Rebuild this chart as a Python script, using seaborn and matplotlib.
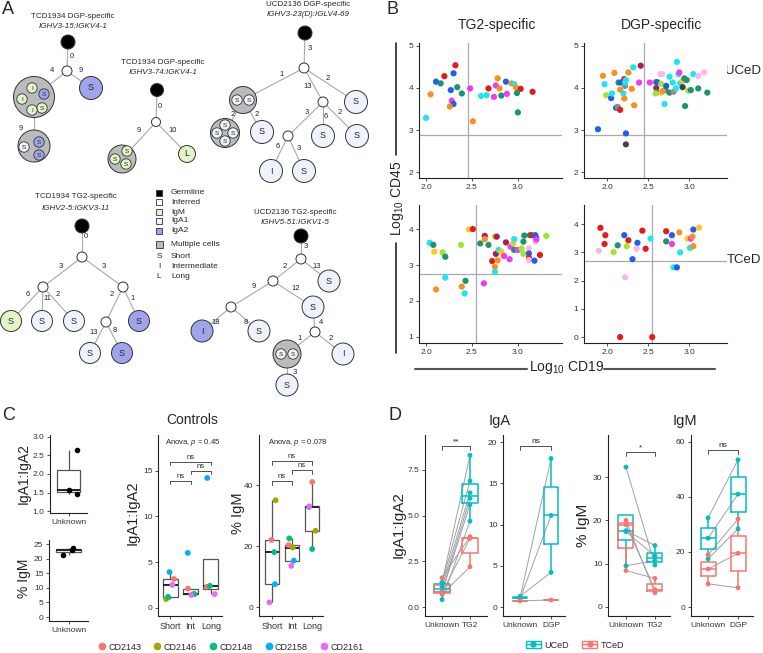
import numpy as np
import pandas as pd
import matplotlib
matplotlib.use('Agg')
import matplotlib.pyplot as plt
import seaborn as sns
from matplotlib.patches import Circle, Rectangle, Patch
from matplotlib.lines import Line2D
from matplotlib.legend_handler import HandlerTuple

np.random.seed(4)
sns.set_theme(style='ticks')
plt.rcParams['font.family'] = ['Liberation Sans', 'DejaVu Sans']
plt.rcParams['mathtext.fontset'] = 'custom'
plt.rcParams['mathtext.rm'] = 'Liberation Sans'
plt.rcParams['mathtext.it'] = 'Liberation Sans:italic'
plt.rcParams['axes.linewidth'] = 0.8
plt.rcParams['axes.edgecolor'] = '#222222'
plt.rcParams['xtick.major.size'] = 2.5
plt.rcParams['ytick.major.size'] = 2.5
plt.rcParams['xtick.major.width'] = 0.6
plt.rcParams['ytick.major.width'] = 0.6
plt.rcParams['xtick.color'] = '#333333'
plt.rcParams['ytick.color'] = '#333333'

# ------------------------------------------------------------------ DATA
# Panel A: clonal trees (diagram)
tree_titles = ['TCD1934 DGP-specific', 'TCD1934 DGP-specific', 'UCD2136 DGP-specific',
               'TCD1934 TG2-specific', 'UCD2136 TG2-specific']
tree_genes = ['IGHV3-15:IGKV4-1', 'IGHV3-74:IGKV4-1', 'IGHV3-23(D):IGLV4-69',
              'IGHV2-5:IGKV3-11', 'IGHV5-51:IGKV1-5']
node_kind = {
    'g1': ('germ', ''), 'i1': ('inf', ''), 'm1': ('multi', ''), 'a1': ('IgA2', 'S'), 'm2': ('multi', ''),
    'g2': ('germ', ''), 'i2': ('inf', ''), 'm3': ('multi', ''), 'l2': ('IgM', 'L'),
    'g3': ('germ', ''), 'i3': ('inf', ''), 'm4': ('multi', ''), 's31': ('IgA1', 'S'), 'i4': ('inf', ''),
    'm5': ('multi', ''), 's32': ('IgA1', 'S'), 'i5': ('inf', ''), 's33': ('IgA1', 'S'), 's34': ('IgA1', 'S'),
    's35': ('IgA1', 'I'), 's36': ('IgA1', 'S'),
    'g4': ('germ', ''), 'i6': ('inf', ''), 'i7': ('inf', ''), 'i8': ('inf', ''), 's41': ('IgM', 'S'),
    's42': ('IgA1', 'S'), 's43': ('IgA1', 'S'), 'i9': ('inf', ''), 's44': ('IgA2', 'S'), 's45': ('IgA1', 'S'),
    's46': ('IgA2', 'S'),
    'g5': ('germ', ''), 'i10': ('inf', ''), 's51': ('IgA1', 'S'), 'i11': ('inf', ''), 's52': ('IgA1', 'S'),
    'i12': ('inf', ''), 's53': ('IgA2', 'I'), 's54': ('IgA1', 'S'), 'i13': ('inf', ''), 'm6': ('multi', ''),
    's55': ('IgA1', 'I'), 's56': ('IgA1', 'S'),
}
tree_edges = [('g1', 'i1', '0'), ('i1', 'm1', '4'), ('i1', 'a1', '9'), ('m1', 'm2', '9'),
              ('g2', 'i2', '0'), ('i2', 'm3', '9'), ('i2', 'l2', '10'),
              ('g3', 'i3', '3'), ('i3', 'm4', '1'), ('i3', 's31', '2'), ('i3', 'i4', '13'), ('m4', 'm5', '2'),
              ('m4', 's32', '2'), ('i4', 'i5', '3'), ('i4', 's33', '6'), ('i4', 's34', '2'), ('i5', 's35', '6'),
              ('i5', 's36', '3'),
              ('g4', 'i6', '0'), ('i6', 'i7', '3'), ('i6', 'i8', '3'), ('i7', 's41', '6'), ('i7', 's42', '11'),
              ('i7', 's43', '2'), ('i8', 'i9', '2'), ('i8', 's44', '1'), ('i9', 's45', '13'), ('i9', 's46', '8'),
              ('g5', 'i10', '3'), ('i10', 'i11', '2'), ('i10', 's51', '13'), ('i11', 'i12', '9'), ('i11', 's52', '12'),
              ('i12', 's53', '18'), ('i12', 's54', '8'), ('s52', 'i13', '4'), ('i13', 'm6', '1'), ('i13', 's55', '2'),
              ('m6', 's56', '3')]
multi_cells = [('m1', 'IgM', 'I'), ('m1', 'IgA2', 'S'), ('m1', 'IgM', 'I'), ('m1', 'IgM', 'S'), ('m1', 'IgM', 'I'),
               ('m2', 'IgA2', 'S'), ('m2', 'IgA1', 'S'), ('m2', 'IgA2', 'S'),
               ('m3', 'IgM', 'S'), ('m3', 'IgM', 'S'), ('m3', 'IgM', 'S'),
               ('m4', 'IgA1', 'S'), ('m4', 'IgA1', 'S'),
               ('m5', 'IgA1', 'S'), ('m5', 'IgA1', 'S'), ('m5', 'IgA1', 'S'), ('m5', 'IgA1', 'S'),
               ('m6', 'IgA1', 'S'), ('m6', 'IgA1', 'S')]
legend_kinds = ['germ', 'inf', 'IgM', 'IgA1', 'IgA2', 'multi', 'S', 'I', 'L']
legend_names = ['Germline', 'Inferred', 'IgM', 'IgA1', 'IgA2', 'Multiple cells', 'Short', 'Intermediate', 'Long']

# Panel B: flow cytometry (log10 CD19 vs log10 CD45)
tg2_u_x = [2.00, 2.05, 2.11, 2.16, 2.20, 2.30, 2.32, 2.27, 2.34, 2.39, 2.28, 2.30, 2.26, 2.48, 2.51, 2.60,
           2.66, 2.68, 2.74, 2.76, 2.78, 2.80, 2.82, 2.87, 2.88, 2.93, 2.96, 2.98, 3.03, 2.99, 3.00, 3.16]
tg2_u_y = [3.29, 3.85, 4.15, 4.11, 4.28, 4.35, 4.54, 3.95, 4.02, 3.87, 3.70, 3.62, 3.56, 3.99, 3.21, 3.81,
           3.83, 3.99, 3.79, 4.06, 4.23, 3.99, 3.82, 4.15, 3.86, 4.11, 4.09, 4.01, 3.98, 3.88, 3.42, 3.91]
tg2_u_c = ['cyan', 'orange', 'blue', 'green', 'red', 'blue', 'red', 'blue', 'green', 'green', 'magenta', 'blue',
           'orange', 'magenta', 'orange', 'cyan', 'cyan', 'red', 'magenta', 'magenta', 'orange', 'orange', 'green',
           'blue', 'magenta', 'orange', 'cyan', 'orange', 'red', 'green', 'green', 'red']
dgp_u_x = [1.89, 1.95, 1.97, 1.99, 2.05, 2.06, 2.09, 2.11, 2.13, 2.16, 2.14, 2.17, 2.16, 2.22, 2.21, 2.23,
           2.22, 2.20, 2.21, 2.26, 2.30, 2.33, 2.32, 2.41, 2.39, 2.52, 2.59, 2.61, 2.60, 2.61, 2.59, 2.66,
           2.66, 2.70, 2.71, 2.68, 2.72, 2.65, 2.67, 2.76, 2.76, 2.81, 2.80, 2.85, 2.87, 2.84, 2.88, 2.89,
           2.92, 2.92, 2.94, 2.97, 2.95, 2.99, 3.02, 3.05, 3.11, 3.11, 3.18, 3.22, 2.23, 2.23]
dgp_u_y = [3.02, 4.29, 4.09, 3.83, 3.76, 3.87, 4.36, 3.53, 3.55, 3.48, 4.13, 4.13, 3.96, 4.05, 4.21, 4.19,
           4.13, 3.87, 3.75, 4.37, 3.98, 3.59, 4.49, 4.53, 4.13, 4.13, 4.14, 4.14, 4.00, 3.90, 3.87, 3.89,
           4.10, 3.62, 3.95, 3.93, 4.05, 4.33, 4.33, 3.89, 4.27, 3.91, 4.13, 4.62, 4.33, 3.99, 4.37, 4.11,
           4.17, 4.02, 4.23, 4.19, 3.57, 3.94, 3.95, 4.33, 4.29, 3.99, 4.37, 3.89, 2.92, 2.66]
dgp_u_c = ['blue', 'orange', 'cyan', 'lime', 'blue', 'cyan', 'orange', 'blue', 'gray', 'red', 'green', 'blue',
           'orange', 'gray', 'red', 'cyan', 'cyan', 'cyan', 'orange', 'orange', 'orange', 'orange', 'cyan', 'maroon',
           'magenta', 'magenta', 'brown', 'blue', 'maroon', 'green', 'lime', 'yellow', 'lime', 'cyan', 'green',
           'orange', 'blue', 'pinkl', 'pinkl', 'green', 'cyan', 'brown', 'cyan', 'cyan', 'cyan', 'cyan', 'magenta',
           'cyan', 'yellow', 'dgray', 'green', 'green', 'green', 'lime', 'green', 'cyan', 'pinkl', 'green', 'pinkl',
           'green', 'blue', 'dgray']
tg2_t_x = [2.04, 2.08, 2.09, 2.18, 2.21, 2.21, 2.11, 2.38, 2.39, 2.43, 2.42, 2.47, 2.51, 2.63, 2.59, 2.64,
           2.64, 2.68, 2.72, 2.75, 2.77, 2.76, 2.78, 2.75, 2.75, 2.79, 2.82, 2.85, 2.87, 2.91, 2.92, 2.95,
           2.96, 2.96, 3.00, 3.04, 3.06, 3.06, 3.07, 3.12, 3.13, 3.15, 3.12, 3.12, 3.12, 3.18, 3.19, 3.20,
           3.19, 3.20, 3.24, 3.31]
tg2_t_y = [3.62, 3.56, 3.37, 3.35, 3.23, 2.65, 2.32, 3.56, 2.40, 2.56, 2.21, 3.99, 4.00, 2.49, 3.60, 3.81,
           3.72, 3.56, 3.11, 3.79, 3.79, 3.31, 3.13, 2.95, 2.81, 3.42, 3.37, 3.25, 3.63, 3.16, 3.51, 3.60,
           3.72, 3.42, 3.42, 3.46, 3.31, 3.65, 3.82, 3.46, 3.83, 3.83, 3.32, 3.20, 3.14, 3.12, 3.83, 3.76,
           3.65, 3.71, 3.28, 3.81]
tg2_t_c = ['cyan', 'green', 'yellow', 'lime', 'green', 'cyan', 'orange', 'lime', 'orange', 'green', 'cyan',
           'yellow', 'red', 'magenta', 'green', 'maroon', 'orange', 'green', 'red', 'yellow', 'maroon', 'maroon',
           'orange', 'orange', 'cyan', 'cyan', 'yellow', 'magenta', 'maroon', 'magenta', 'magenta', 'yellow',
           'cyan', 'green', 'magenta', 'lime', 'lime', 'green', 'green', 'pinkl', 'green', 'red', 'blue', 'red',
           'pinkl', 'blue', 'blue', 'blue', 'pinkl', 'magenta', 'red', 'lime']
dgp_t_x = [1.90, 1.92, 1.98, 1.97, 2.08, 2.13, 2.21, 2.26, 2.24, 2.22, 2.31, 2.37, 2.36, 2.43, 2.47, 2.53,
           2.72, 2.72, 2.79, 2.79, 2.88, 2.89, 2.81, 2.85, 2.98, 3.02, 3.04, 3.01, 3.05, 3.05, 3.12, 2.16, 2.55]
dgp_t_y = [3.06, 3.87, 3.61, 3.30, 3.01, 3.25, 3.61, 3.43, 3.22, 2.12, 2.76, 3.34, 3.13, 3.77, 3.13, 3.49,
           3.75, 3.39, 3.61, 3.30, 3.71, 3.00, 2.47, 2.47, 3.49, 3.49, 3.56, 3.16, 3.22, 3.81, 3.88, 0.0, 0.0]
dgp_t_c = ['pinkl', 'red', 'red', 'red', 'lime', 'green', 'blue', 'red', 'lime', 'pinkl', 'blue', 'blue',
           'pinkl', 'red', 'red', 'cyan', 'red', 'green', 'blue', 'magenta', 'orange', 'cyan', 'cyan', 'blue',
           'yellow', 'magenta', 'orange', 'cyan', 'orange', 'blue', 'yellow', 'red', 'red']
gate_cd19 = [2.46, 2.45, 2.54, 2.55]   # TG2/UCeD, DGP/UCeD, TG2/TCeD, DGP/TCeD
gate_cd45 = [2.88, 2.88, 2.75, 2.71]

# Panel C: controls
unknown_ratio = [2.65, 1.58, 1.45]
unknown_igm = [23.6, 23.0, 21.3]
ctrl_length = ['Short'] * 5 + ['Int'] * 5 + ['Long'] * 5
ctrl_donor = ['CD2143', 'CD2146', 'CD2148', 'CD2158', 'CD2161'] * 3
ctrl_ratio = [3.15, 0.95, 1.2, 3.9, 2.5, 2.1, 1.5, 1.5, 6.0, 1.4, 2.3, np.nan, 2.4, 14.2, 1.5]
ctrl_igm = [22.0, 35.0, 18.0, 7.5, 1.5, 20.3, 19.5, 22.5, 15.2, 13.5, 41.0, 25.0, 19.0, 32.8, 33.0]
donors = ['CD2143', 'CD2146', 'CD2148', 'CD2158', 'CD2161']
donor_colors = ['#F8766D', '#A3A500', '#00BF7D', '#00B0F6', '#E76BF3']
ratio_anova = 'Anova, $\\it{p}$ = 0.45'
igm_anova = 'Anova, $\\it{p}$ = 0.078'

# Panel D: patients, paired unknown vs antigen-specific
da_grp = ['UCeD'] * 6 + ['TCeD'] * 3
da_unknown = [1.35, 1.3, 1.1, 0.85, 0.8, 0.4, 1.6, 0.8, 0.7]
da_tg2 = [8.3, 6.9, 6.25, 5.95, 5.6, 4.7, 3.85, 3.75, 2.2]
db_grp = ['UCeD'] * 3 + ['TCeD']
db_unknown = [1.1, 1.3, 1.0, 0.75]
db_dgp = [18.0, 4.2, 11.1, 0.85]
dc_grp = ['UCeD'] * 4 + ['TCeD'] * 3
dc_unknown = [32.3, 17.6, 17.4, 9.5, 20.0, 19.0, 8.4]
dc_tg2 = [9.7, 14.2, 11.8, 10.7, 3.3, 4.0, 6.6]
dd_grp = ['UCeD'] * 3 + ['TCeD'] * 3
dd_unknown = [32.4, 25.0, 17.5, 19.0, 13.8, 8.4]
dd_dgp = [53.5, 41.0, 28.4, 32.0, 19.5, 7.0]
d_signif = ['**', 'ns', '*', 'ns']
group_colors = {'UCeD': '#00BFC4', 'TCeD': '#F8766D'}

# ------------------------------------------------------------------ FIGURE
W, H = 763, 653
fig = plt.figure(figsize=(W / 100, H / 100), dpi=100)


def px_ax(x0, y0, x1, y1):
    return fig.add_axes([x0 / W, 1 - y1 / H, (x1 - x0) / W, (y1 - y0) / H])


axA = fig.add_axes([0, 0, 1, 1])
axA.set_xlim(0, W)
axA.set_ylim(H, 0)
axA.axis('off')


def T(x, y, s, **kw):
    axA.text(x, y, s, **kw)


# panel letters
for lab, (x, y) in zip('ABCD', [(2, 10), (386, 10), (2, 416), (388, 416)]):
    T(x, y, lab, fontsize=13, va='center', ha='left')

# ---------------- Panel A
fills = {'germ': 'black', 'inf': 'white', 'IgM': '#E1F5C8', 'IgA1': '#EDF2FB', 'IgA2': '#A0A4EA',
         'multi': '#BBBBBB'}
node_pos = {
    'g1': (68, 42, 7), 'i1': (67, 71, 5), 'm1': (34, 97, 20.5), 'a1': (91, 88, 11.5), 'm2': (34, 146, 16),
    'g2': (157, 90, 6.5), 'i2': (156, 122, 4.5), 'm3': (122, 159, 14), 'l2': (187, 154, 8.5),
    'g3': (305, 33, 7), 'i3': (304, 68, 5), 'm4': (243, 100, 13.5), 's31': (356, 102, 11.5), 'i4': (323, 102, 5),
    'm5': (225, 133, 14.5), 's32': (262, 132, 11.5), 'i5': (288, 136, 5), 's33': (323, 136, 11.5),
    's34': (357, 136, 11.5), 's35': (271, 171, 11.5), 's36': (304, 171, 11.5),
    'g4': (82, 226, 7), 'i6': (82, 257, 5), 'i7': (43, 287, 5), 'i8': (123, 287, 5), 's41': (11, 321, 10.5),
    's42': (42, 321, 10.5), 's43': (74, 321, 10.5), 'i9': (106, 322, 5), 's44': (139, 321, 10.5),
    's45': (90, 353, 10.5), 's46': (122, 353, 10.5),
    'g5': (301, 236, 7), 'i10': (301, 259, 5), 's51': (329, 281, 11), 'i11': (273, 281, 5), 's52': (313, 307, 11),
    'i12': (231, 307, 5), 's53': (202, 331, 11), 's54': (259, 331, 11), 'i13': (315, 332, 5), 'm6': (287, 354, 14),
    's55': (343, 354, 11), 's56': (287, 385, 11),
}
edge_label_pos = [(72, 57), (52, 71), (81, 71), (21, 128),
                  (160, 107), (139, 131), (173, 131),
                  (310, 49), (282, 74), (328, 78), (308, 87), (233, 114), (257, 114), (307, 113), (326, 116),
                  (340, 113), (278, 147), (299, 148),
                  (86, 237), (61, 266), (104, 266), (28, 294), (47, 298), (58, 294), (112, 294), (133, 298),
                  (94, 332), (115, 331),
                  (306, 247), (285, 266), (317, 266), (254, 287), (296, 288), (216, 323), (246, 323), (321, 322),
                  (300, 339), (331, 339), (295, 372)]
multi_pos = [(32, 88), (44, 94), (22, 99), (42, 108), (32, 110),
             (39, 142), (24, 147), (39, 155),
             (127, 151), (115, 159), (126, 164),
             (237, 100), (249, 100),
             (225, 125), (217, 133), (233, 133), (225, 141),
             (281, 354), (293, 354)]
title_pos = [(73, 16, 26), (163, 62, 73), (308, 5, 15), (76, 197, 208), (295, 213, 223)]

for (p, c, w), (lx, ly) in zip(tree_edges, edge_label_pos):
    x0, y0, _ = node_pos[p]
    x1, y1, _ = node_pos[c]
    axA.plot([x0, x1], [y0, y1], color='#A8A8A8', lw=0.8, zorder=1)
    T(lx, ly, w, fontsize=5.5, ha='center', va='center', color='#222222')
for name, (kind, letter) in node_kind.items():
    x, y, r = node_pos[name]
    axA.add_patch(Circle((x, y), r, facecolor=fills[kind], edgecolor='#333333', lw=0.7, zorder=2))
    if letter:
        T(x, y, letter, fontsize=6.5, ha='center', va='center', zorder=4)
for (m, kind, letter), (x, y) in zip(multi_cells, multi_pos):
    axA.add_patch(Circle((x, y), 5.2, facecolor=fills[kind], edgecolor='#333333', lw=0.6, zorder=3))
    T(x, y + 0.3, letter, fontsize=4.6, ha='center', va='center', zorder=4)
for (t, g), (x, y1, y2) in zip(zip(tree_titles, tree_genes), title_pos):
    T(x, y1, t, fontsize=5.8, ha='center', va='center')
    T(x, y2, g, fontsize=5.8, ha='center', va='center', style='italic')

leg_y = [193, 202, 212, 221, 231, 244, 256, 267, 277]
for kind, name, y in zip(legend_kinds, legend_names, leg_y):
    if kind in fills:
        s = 7 if kind == 'multi' else 6
        axA.add_patch(Rectangle((159 - s / 2, y - s / 2), s, s, facecolor=fills[kind], edgecolor='#333333',
                                lw=0.6))
    else:
        T(159, y, kind, fontsize=6, ha='center', va='center')
    T(171, y, name, fontsize=6, ha='left', va='center')

# ---------------- Panel B
bcol = {'orange': '#F7901E', 'red': '#E41A1C', 'blue': '#1F5FF0', 'green': '#1B9470', 'magenta': '#F03CF0',
        'cyan': '#1DE6F0', 'yellow': '#FFC51F', 'lime': '#A0E62C', 'maroon': '#A3205A', 'pinkl': '#F7B8F2',
        'gray': '#8C8C8C', 'dgray': '#444444', 'brown': '#A88888'}
b_boxes = [(419, 43, 562, 178), (584, 43, 727, 178), (419, 205, 562, 343), (584, 205, 727, 343)]
b_xlim = [(1.924, 3.48), (1.72, 3.46), (1.924, 3.48), (1.72, 3.46)]
b_ylim = [(1.86, 5.07), (1.86, 5.07), (0.83, 4.67), (-0.21, 4.68)]
b_yticks = [[2, 3, 4, 5], [2, 3, 4, 5], [1, 2, 3, 4], [0, 1, 2, 3, 4]]
b_data = [(tg2_u_x, tg2_u_y, tg2_u_c), (dgp_u_x, dgp_u_y, dgp_u_c),
          (tg2_t_x, tg2_t_y, tg2_t_c), (dgp_t_x, dgp_t_y, dgp_t_c)]
for i in range(4):
    ax = px_ax(*b_boxes[i])
    xs, ys, cs = b_data[i]
    ax.axvline(gate_cd19[i], color='#AAAAAA', lw=0.9, zorder=0)
    ax.axhline(gate_cd45[i], color='#AAAAAA', lw=0.9, zorder=0)
    sns.scatterplot(x=xs, y=ys, hue=cs, palette=bcol, s=20, linewidth=0, legend=False, ax=ax, zorder=3)
    ax.set_xlim(*b_xlim[i])
    ax.set_ylim(*b_ylim[i])
    ax.set_xticks([2.0, 2.5, 3.0])
    ax.set_xticklabels(['2.0', '2.5', '3.0'])
    ax.set_yticks(b_yticks[i])
    ax.tick_params(labelsize=6, pad=1.5)
    sns.despine(ax=ax)
    ax.set_xlabel('')
    ax.set_ylabel('')
T(497, 25, 'TG2-specific', fontsize=10, ha='center', va='center')
T(662, 25, 'DGP-specific', fontsize=10, ha='center', va='center')
T(761, 71, 'UCeD', fontsize=9.5, ha='right', va='center')
T(761, 260, 'TCeD', fontsize=9.5, ha='right', va='center')
T(397, 198, 'Log$_{10}$ CD45', fontsize=10, ha='center', va='center', rotation=90)
T(567, 368, 'Log$_{10}$ CD19', fontsize=10, ha='center', va='center')
axA.plot([396, 396], [43, 155], color='#222222', lw=1.2)
axA.plot([396, 396], [243, 353], color='#222222', lw=1.2)
axA.plot([415, 527], [369, 369], color='#555555', lw=1.5)
axA.plot([604, 715], [369, 369], color='#555555', lw=1.5)

# ---------------- Panel C
dpal = dict(zip(donors, donor_colors))
box_kw = dict(color='white', linecolor='#555555', showfliers=False, linewidth=0.9,
              medianprops=dict(color='#222222', linewidth=1.4), capprops=dict(visible=False))


def style_ax(ax, labelsize=6):
    sns.despine(ax=ax)
    ax.tick_params(labelsize=labelsize, pad=1.5)
    ax.set_xlabel('')
    ax.set_ylabel('')


axc1 = px_ax(50, 435, 87, 513)
sns.boxplot(x=['Unknown'] * len(unknown_ratio), y=unknown_ratio, width=0.62, ax=axc1, **box_kw)
sns.stripplot(x=['Unknown'] * len(unknown_ratio), y=unknown_ratio, color='black', size=4, jitter=0.25,
              ax=axc1, zorder=3)
axc1.set_xlim(-0.5, 0.5)
axc1.set_ylim(0.946, 3.054)
axc1.set_yticks([1.0, 1.5, 2.0, 2.5, 3.0])
style_ax(axc1)

axc2 = px_ax(49, 540, 88, 621)
sns.boxplot(x=['Unknown'] * len(unknown_igm), y=unknown_igm, width=0.64, ax=axc2, **box_kw)
sns.stripplot(x=['Unknown'] * len(unknown_igm), y=unknown_igm, color='black', size=4, jitter=0.25,
              ax=axc2, zorder=3)
axc2.set_xlim(-0.5, 0.5)
axc2.set_ylim(-1.37, 26.4)
axc2.set_yticks([0, 5, 10, 15, 20, 25])
style_ax(axc2)
T(24, 474, 'IgA1:IgA2', fontsize=10, rotation=90, ha='center', va='center')
T(24, 578, '% IgM', fontsize=10, rotation=90, ha='center', va='center')

ctrl = pd.DataFrame({'length': ctrl_length, 'donor': ctrl_donor, 'ratio': ctrl_ratio, 'igm': ctrl_igm})
len_order = ['Short', 'Int', 'Long']


def bracket(ax, x0, x1, y, h, txt, fs):
    ax.plot([x0, x0, x1, x1], [y - h, y, y, y - h], color='#333333', lw=0.6, clip_on=False)
    ax.text((x0 + x1) / 2, y + h * 0.2, txt, ha='center', va='bottom', fontsize=fs)


axc3 = px_ax(158, 435, 222, 616)
sns.boxplot(data=ctrl, x='length', y='ratio', order=len_order, width=0.73, ax=axc3, **box_kw)
sns.stripplot(data=ctrl, x='length', y='ratio', order=len_order, hue='donor', hue_order=donors, palette=dpal,
              size=4.2, jitter=0.2, legend=False, ax=axc3, zorder=3)
axc3.set_xlim(-0.59, 2.54)
axc3.set_ylim(-0.9, 18.9)
axc3.set_yticks([0, 5, 10, 15])
style_ax(axc3)
axc3.tick_params(axis='x', labelsize=6.5)
for x0, x1, y in [(0, 2, 16.0), (1, 2, 15.0), (0, 1, 13.9)]:
    bracket(axc3, x0, x1, y, 0.4, 'ns', 5.5)
axc3.text(1.12, 18.05, ratio_anova, ha='center', va='center', fontsize=5.5)

axc4 = px_ax(259, 435, 323, 616)
sns.boxplot(data=ctrl, x='length', y='igm', order=len_order, width=0.73, ax=axc4, **box_kw)
sns.stripplot(data=ctrl, x='length', y='igm', order=len_order, hue='donor', hue_order=donors, palette=dpal,
              size=4.2, jitter=0.2, legend=False, ax=axc4, zorder=3)
axc4.set_xlim(-0.65, 2.55)
axc4.set_ylim(-2.95, 56.4)
axc4.set_yticks([0, 20, 40])
style_ax(axc4)
axc4.tick_params(axis='x', labelsize=6.5)
for x0, x1, y in [(0, 2, 47.9), (1, 2, 44.9), (0, 1, 41.3)]:
    bracket(axc4, x0, x1, y, 1.2, 'ns', 5.5)
axc4.text(1.3, 53.8, igm_anova, ha='center', va='center', fontsize=5.5)
T(192, 420, 'Controls', fontsize=10, ha='center', va='center')
T(133, 513, 'IgA1:IgA2', fontsize=10.5, rotation=90, ha='center', va='center')
T(238, 513, '% IgM', fontsize=10.5, rotation=90, ha='center', va='center')

c_handles = [Line2D([], [], marker='o', ls='', color=c, markersize=4.5) for c in donor_colors]
fig.legend(c_handles, donors, loc='center', bbox_to_anchor=(230 / W, 1 - 647 / H), ncol=5, frameon=False,
           fontsize=6.5, handletextpad=0.1, columnspacing=1.2, handlelength=1.2)

# ---------------- Panel D
d_sets = [(da_grp, da_unknown, da_tg2, 'TG2'), (db_grp, db_unknown, db_dgp, 'DGP'),
          (dc_grp, dc_unknown, dc_tg2, 'TG2'), (dd_grp, dd_unknown, dd_dgp, 'DGP')]
d_boxes = [(425, 435, 487, 616), (503, 435, 565, 616), (608, 435, 670, 616), (691, 435, 753, 616)]
d_xlim = [(-0.61, 1.61), (-0.55, 1.45), (-0.62, 1.52), (-0.57, 1.5)]
d_ylim = [(-0.49, 9.41), (-1.09, 20.85), (-2.08, 39.7), (-3.27, 62.5)]
d_yticks = [([0, 2.5, 5, 7.5], ['0.0', '2.5', '5.0', '7.5']), ([0, 5, 10, 15, 20], None),
            ([0, 10, 20, 30], None), ([0, 20, 40, 60], None)]
d_brk = [(8.81, 0.22), (19.5, 0.5), (35.8, 0.9), (57.1, 1.5)]
d_width = [0.54, 0.48, 0.52, 0.5]
for i, (grp, unk, spec, lab) in enumerate(d_sets):
    ax = px_ax(*d_boxes[i])
    n = len(grp)
    df = pd.DataFrame({'pid': list(range(n)) * 2, 'grp': grp * 2, 'cond': ['Unknown'] * n + [lab] * n,
                       'val': unk + spec})
    df['xpos'] = df['cond'].map({'Unknown': 0, lab: 1})
    sns.lineplot(data=df, x='xpos', y='val', units='pid', estimator=None, color='#A0A0A0', lw=0.7,
                 legend=False, ax=ax, zorder=1)
    sns.boxplot(data=df, x='cond', y='val', hue='grp', order=['Unknown', lab], hue_order=['UCeD', 'TCeD'],
                palette=group_colors, dodge=False, fill=False, width=d_width[i], showfliers=False, linewidth=1.1,
                capprops=dict(visible=False), legend=False, ax=ax)
    sns.stripplot(data=df, x='cond', y='val', hue='grp', order=['Unknown', lab], hue_order=['UCeD', 'TCeD'],
                  palette=group_colors, dodge=False, jitter=False, size=3.5, legend=False, ax=ax, zorder=3)
    ax.set_xlim(*d_xlim[i])
    ax.set_ylim(*d_ylim[i])
    ax.set_xticks([0, 1])
    ax.set_xticklabels(['Unknown', lab])
    ticks, labels = d_yticks[i]
    ax.set_yticks(ticks)
    if labels:
        ax.set_yticklabels(labels)
    style_ax(ax)
    ax.tick_params(axis='x', labelsize=6)
    y, h = d_brk[i]
    bracket(ax, 0, 1, y, h, d_signif[i], 6)
T(500, 421, 'IgA', fontsize=10.5, ha='center', va='center')
T(685, 421, 'IgM', fontsize=10.5, ha='center', va='center')
T(399, 525, 'IgA1:IgA2', fontsize=11, rotation=90, ha='center', va='center')
T(583, 525, '% IgM', fontsize=11, rotation=90, ha='center', va='center')

d_handles = [(Patch(facecolor='white', edgecolor=c, lw=1.0),
              Line2D([], [], color=c, marker='o', markersize=3.5, lw=1.0)) for c in group_colors.values()]
fig.legend(d_handles, list(group_colors.keys()), loc='center', bbox_to_anchor=(575 / W, 1 - 645 / H), ncol=2,
           frameon=False, fontsize=6.5, handler_map={tuple: HandlerTuple(ndivide=1)}, handlelength=1.6,
           handletextpad=0.4, columnspacing=1.5)

fig.savefig('out.png', dpi=100)
